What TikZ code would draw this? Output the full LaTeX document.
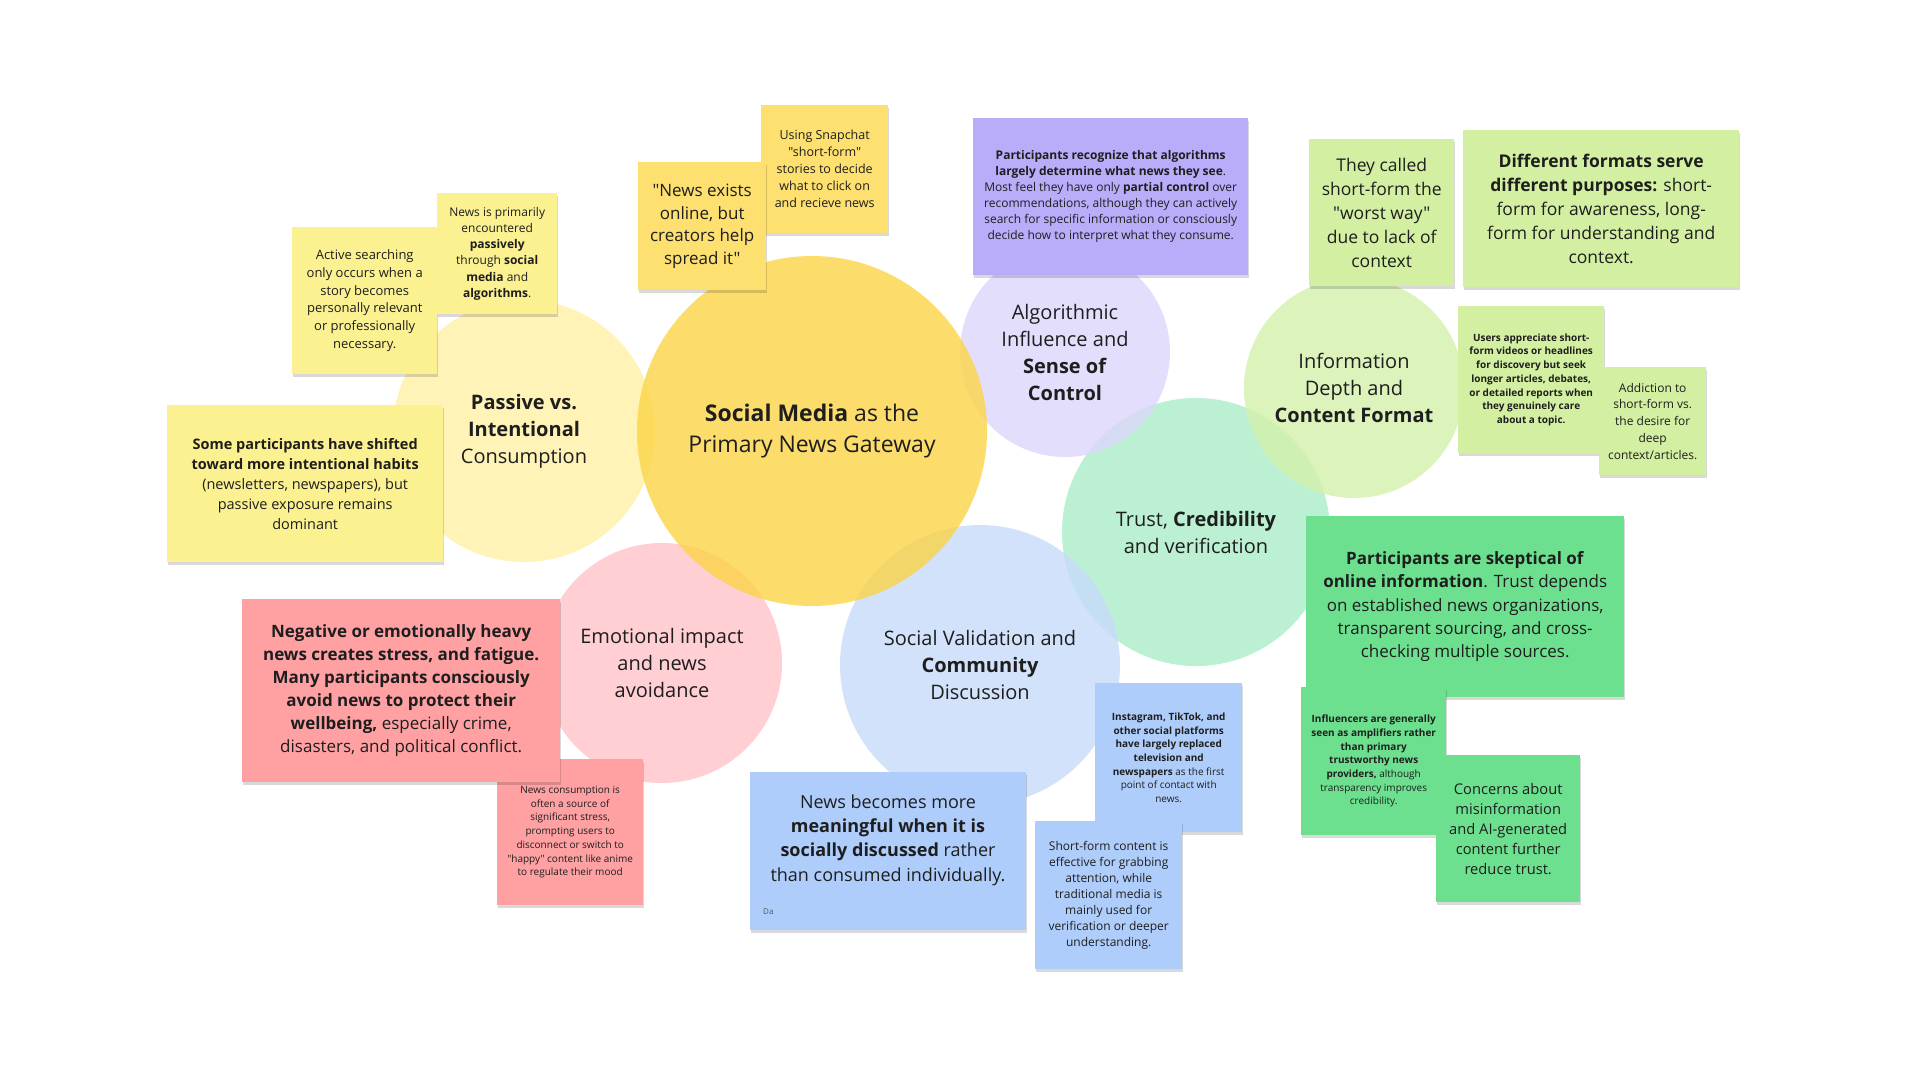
\documentclass[tikz,border=0pt]{standalone}
\usepackage{fontspec}
\setmainfont{Open Sans}[Ligatures=TeXOff]
\usetikzlibrary{shadows}
\definecolor{txt}{HTML}{1E1E1E}
\definecolor{cCentral}{HTML}{FCD446}
\definecolor{cPassive}{HTML}{FFF1A6}
\definecolor{cEmo}{HTML}{FFC4C8}
\definecolor{cSocial}{HTML}{C7DBFB}
\definecolor{cAlgo}{HTML}{DCD6FA}
\definecolor{cTrust}{HTML}{ACEDC9}
\definecolor{cInfo}{HTML}{D4F1AC}
\definecolor{nYellow}{HTML}{FBF191}
\definecolor{nGold}{HTML}{FDE070}
\definecolor{nPurple}{HTML}{B9ACF9}
\definecolor{nLGreen}{HTML}{D3F0A2}
\definecolor{nGreen}{HTML}{6CE08E}
\definecolor{nRed}{HTML}{FFA1A3}
\definecolor{nBlue}{HTML}{AFCDFB}
\newcommand\fsz[2]{\fontsize{#1pt}{#2pt}\selectfont}
\tikzset{
  bub/.style={circle, inner sep=0pt, fill opacity=0.8, text opacity=1, align=center, text=txt, font=\fsz{20}{27}},
  note/.style={rectangle, anchor=north west, inner sep=0pt, align=center, text=txt,
    drop shadow={shadow xshift=1pt, shadow yshift=-3pt, opacity=0.15, fill=black}},
  plain/.style={inner sep=0pt, align=center, text=txt},
}
\begin{document}
\begin{tikzpicture}[x=1pt,y=-1pt]
\useasboundingbox (0,0) rectangle (1920,1080);
\fill[white] (0,0) rectangle (1920,1080);

% ---------- circles ----------
\node[bub, fill=cTrust, minimum size=268pt] (trust) at (1196,532) {Trust, \textbf{Credibility}\\and verification};
\node[bub, fill=cPassive, minimum size=262pt] (passive) at (524,431) {\textbf{Passive vs.}\\\textbf{Intentional}\\Consumption};
\node[bub, fill=cEmo, minimum size=240pt] (emo) at (662,663) {Emotional impact\\and news\\avoidance};
\node[bub, fill=cSocial, minimum size=280pt] (social) at (980,665) {Social Validation and\\\textbf{Community}\\Discussion};
\node[bub, fill=cAlgo, minimum size=210pt] (algo) at (1065,352) {Algorithmic\\Influence and\\\textbf{Sense of}\\\textbf{Control}};
\node[bub, fill=cInfo, minimum size=220pt] (info) at (1354,388) {Information\\Depth and\\\textbf{Content Format}};
\node[bub, fill=cCentral, minimum size=350pt, font=\fsz{23}{31}] (central) at (812,431) {\textbf{Social Media} as the\\Primary News Gateway};

% ---------- yellow notes ----------
\node[note, fill=nYellow, minimum width=145pt, minimum height=147pt, font=\fsz{13}{17.7}] (y1) at (292,227)
 {Active searching\\only occurs when a\\story becomes\\personally relevant\\or professionally\\necessary.};
\node[note, fill=nYellow, minimum width=120pt, minimum height=121pt, font=\fsz{12}{16.2}] (y2) at (437,193)
 {News is primarily\\encountered\\\textbf{passively}\\through \textbf{social}\\\textbf{media} and\\\textbf{algorithms}.};
\node[note, fill=nYellow, minimum width=276pt, minimum height=157pt, font=\fsz{14.5}{20}] (y3) at (167,405)
 {\textbf{Some participants have shifted}\\\textbf{toward more intentional habits}\\(newsletters, newspapers), but\\passive exposure remains\\dominant};

% ---------- gold notes ----------
\node[note, fill=nGold, minimum width=127pt, minimum height=128pt, font=\fsz{12.5}{17}] (g2) at (761,105)
 {Using Snapchat\\"short-form"\\stories to decide\\what to click on\\and recieve news};
\node[note, fill=nGold, minimum width=128pt, minimum height=128pt, font=\fsz{17}{22.7}] (g1) at (638,162)
 {"News exists\\online, but\\creators help\\spread it"};

% ---------- purple note ----------
\node[note, fill=nPurple, minimum width=275pt, minimum height=157pt, font=\fsz{12}{16}] (p1) at (973,118)
 {\textbf{Participants recognize that algorithms}\\\textbf{largely determine what news they see}.\\Most feel they have only \textbf{partial control} over\\recommendations, although they can actively\\search for specific information or consciously\\decide how to interpret what they consume.};

% ---------- light green notes ----------
\node[note, fill=nLGreen, minimum width=145pt, minimum height=147pt, font=\fsz{17.5}{24}] (lg1) at (1309,139)
 {They called\\short-form the\\"worst way"\\due to lack of\\context};
\node[note, fill=nLGreen, minimum width=276pt, minimum height=157pt, font=\fsz{17.5}{24}] (lg2) at (1463,130)
 {\textbf{Different formats serve}\\\textbf{different purposes:} short-\\form for awareness, long-\\form for understanding and\\context.};
\node[note, fill=nLGreen, minimum width=146pt, minimum height=147pt, font=\fsz{10}{13.7}\bfseries] (lg3) at (1458,306)
 {Users appreciate short-\\form videos or headlines\\for discovery but seek\\longer articles, debates,\\or detailed reports when\\they genuinely care\\about a topic.};
\node[note, fill=nLGreen, minimum width=107pt, minimum height=108pt, font=\fsz{12}{16.7}] (lg4) at (1599,367)
 {Addiction to\\short-form vs.\\the desire for\\deep\\context/articles.};

% ---------- green notes ----------
\node[note, fill=nGreen, minimum width=318pt, minimum height=181pt, font=\fsz{17}{23.3}] (gr1) at (1306,516)
 {\textbf{Participants are skeptical of}\\\textbf{online information}. Trust depends\\on established news organizations,\\transparent sourcing, and cross-\\checking multiple sources.};
\node[note, fill=nGreen, minimum width=145pt, minimum height=148pt, font=\fsz{10}{13.7}] (gr2) at (1301,687)
 {\textbf{Influencers are generally}\\\textbf{seen as amplifiers rather}\\\textbf{than primary}\\\textbf{trustworthy news}\\\textbf{providers,} although\\transparency improves\\credibility.};
\node[note, fill=nGreen, minimum width=144pt, minimum height=147pt, font=\fsz{14.7}{20}] (gr3) at (1436,755)
 {Concerns about\\misinformation\\and AI-generated\\content further\\reduce trust.};

% ---------- red notes ----------
\node[note, fill=nRed, minimum width=146pt, minimum height=146pt, font=\fsz{10}{13.7}] (r2) at (497,759)
 {News consumption is\\often a source of\\significant stress,\\prompting users to\\disconnect or switch to\\"happy" content like anime\\to regulate their mood};
\node[note, fill=nRed, minimum width=318pt, minimum height=183pt, font=\fsz{17}{23}] (r1) at (242,599)
 {\textbf{Negative or emotionally heavy}\\\textbf{news creates stress, and fatigue.}\\\textbf{Many participants consciously}\\\textbf{avoid news to protect their}\\\textbf{wellbeing,} especially crime,\\disasters, and political conflict.};

% ---------- blue notes ----------
\node[note, fill=nBlue, minimum width=276pt, minimum height=158pt] (b1) at (750,772) {};
\node[plain, font=\fsz{18}{24.4}] (b1t) at (888,840)
 {News becomes more\\\textbf{meaningful when it is}\\\textbf{socially discussed} rather\\than consumed individually.};
\node[plain, anchor=west, font=\fsz{8}{10}, text=txt!75] (b1da) at (763,912) {Da};
\node[note, fill=nBlue, minimum width=147pt, minimum height=149pt, font=\fsz{10}{13.7}] (b2) at (1095,683)
 {\textbf{Instagram, TikTok, and}\\\textbf{other social platforms}\\\textbf{have largely replaced}\\\textbf{television and}\\\textbf{newspapers} as the first\\point of contact with\\news.};
\node[note, fill=nBlue, minimum width=147pt, minimum height=148pt, font=\fsz{12}{16}] (b3) at (1035,821)
 {Short-form content is\\effective for grabbing\\attention, while\\traditional media is\\mainly used for\\verification or deeper\\understanding.};
\end{tikzpicture}
\end{document}
